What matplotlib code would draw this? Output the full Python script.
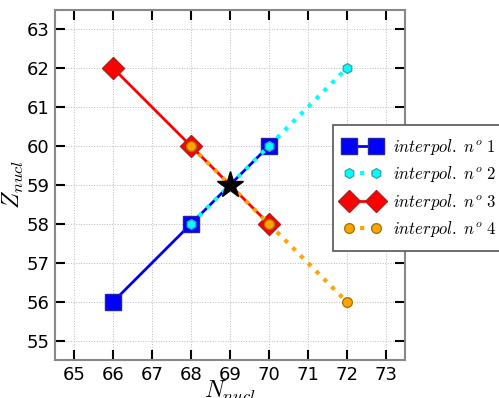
import matplotlib
matplotlib.use("Agg")
import matplotlib.pyplot as plt

plt.rcParams['mathtext.fontset'] = 'cm'

# interpolation points
n1 = [66, 68, 70]
z1 = [56, 58, 60]
n2 = [68, 70, 72]
z2 = [58, 60, 62]
n3 = [66, 68, 70]
z3 = [62, 60, 58]
n4 = [68, 70, 72]
z4 = [60, 58, 56]
n_star = [69]
z_star = [59]
labels = [r'$interpol.\ n^o\ 1$', r'$interpol.\ n^o\ 2$',
          r'$interpol.\ n^o\ 3$', r'$interpol.\ n^o\ 4$']

fig = plt.figure(figsize=(4.99, 3.98), dpi=100)
ax = fig.add_axes([0.110, 0.0955, 0.7016, 0.8795])

ax.plot(n1, z1, '-', color='blue', lw=2, marker='s', ms=11,
        mec='#2222aa', label=labels[0])
ax.plot(n2, z2, ':', color='cyan', lw=3, marker='h', ms=7,
        mec='#33aaaa', label=labels[1])
ax.plot(n3, z3, '-', color='red', lw=2, marker='D', ms=11,
        mec='#aa2222', label=labels[2])
ax.plot(n4, z4, ':', color='orange', lw=3, marker='o', ms=7,
        mec='#aa7700', label=labels[3])
ax.plot(n_star, z_star, '*', color='black', ms=20, zorder=5)

ax.set_xlim(64.5, 73.5)
ax.set_ylim(54.5, 63.5)
ax.set_xticks(range(65, 74))
ax.set_yticks(range(55, 64))
ax.grid(True, ls=':', color='#bbbbbb', lw=0.7)
ax.tick_params(direction='in', length=7, width=1.5, labelsize=13,
               top=True, right=True, pad=4)
for s in ax.spines.values():
    s.set_color('#888888')
    s.set_linewidth(1.5)

ax.set_xlabel(r'$N_{nucl}$', fontsize=17, labelpad=-3)
ax.set_ylabel(r'$Z_{nucl}$', fontsize=17, labelpad=0)

leg = fig.legend(loc='upper left', bbox_to_anchor=(0.667, 0.686),
                 fontsize=12, fancybox=False, framealpha=1,
                 edgecolor='#555555', handlelength=2.2, numpoints=2,
                 borderaxespad=0, borderpad=0.7, labelspacing=0.45,
                 handletextpad=0.7)
leg.get_frame().set_linewidth(1.2)

fig.savefig('out.png', dpi=100)
